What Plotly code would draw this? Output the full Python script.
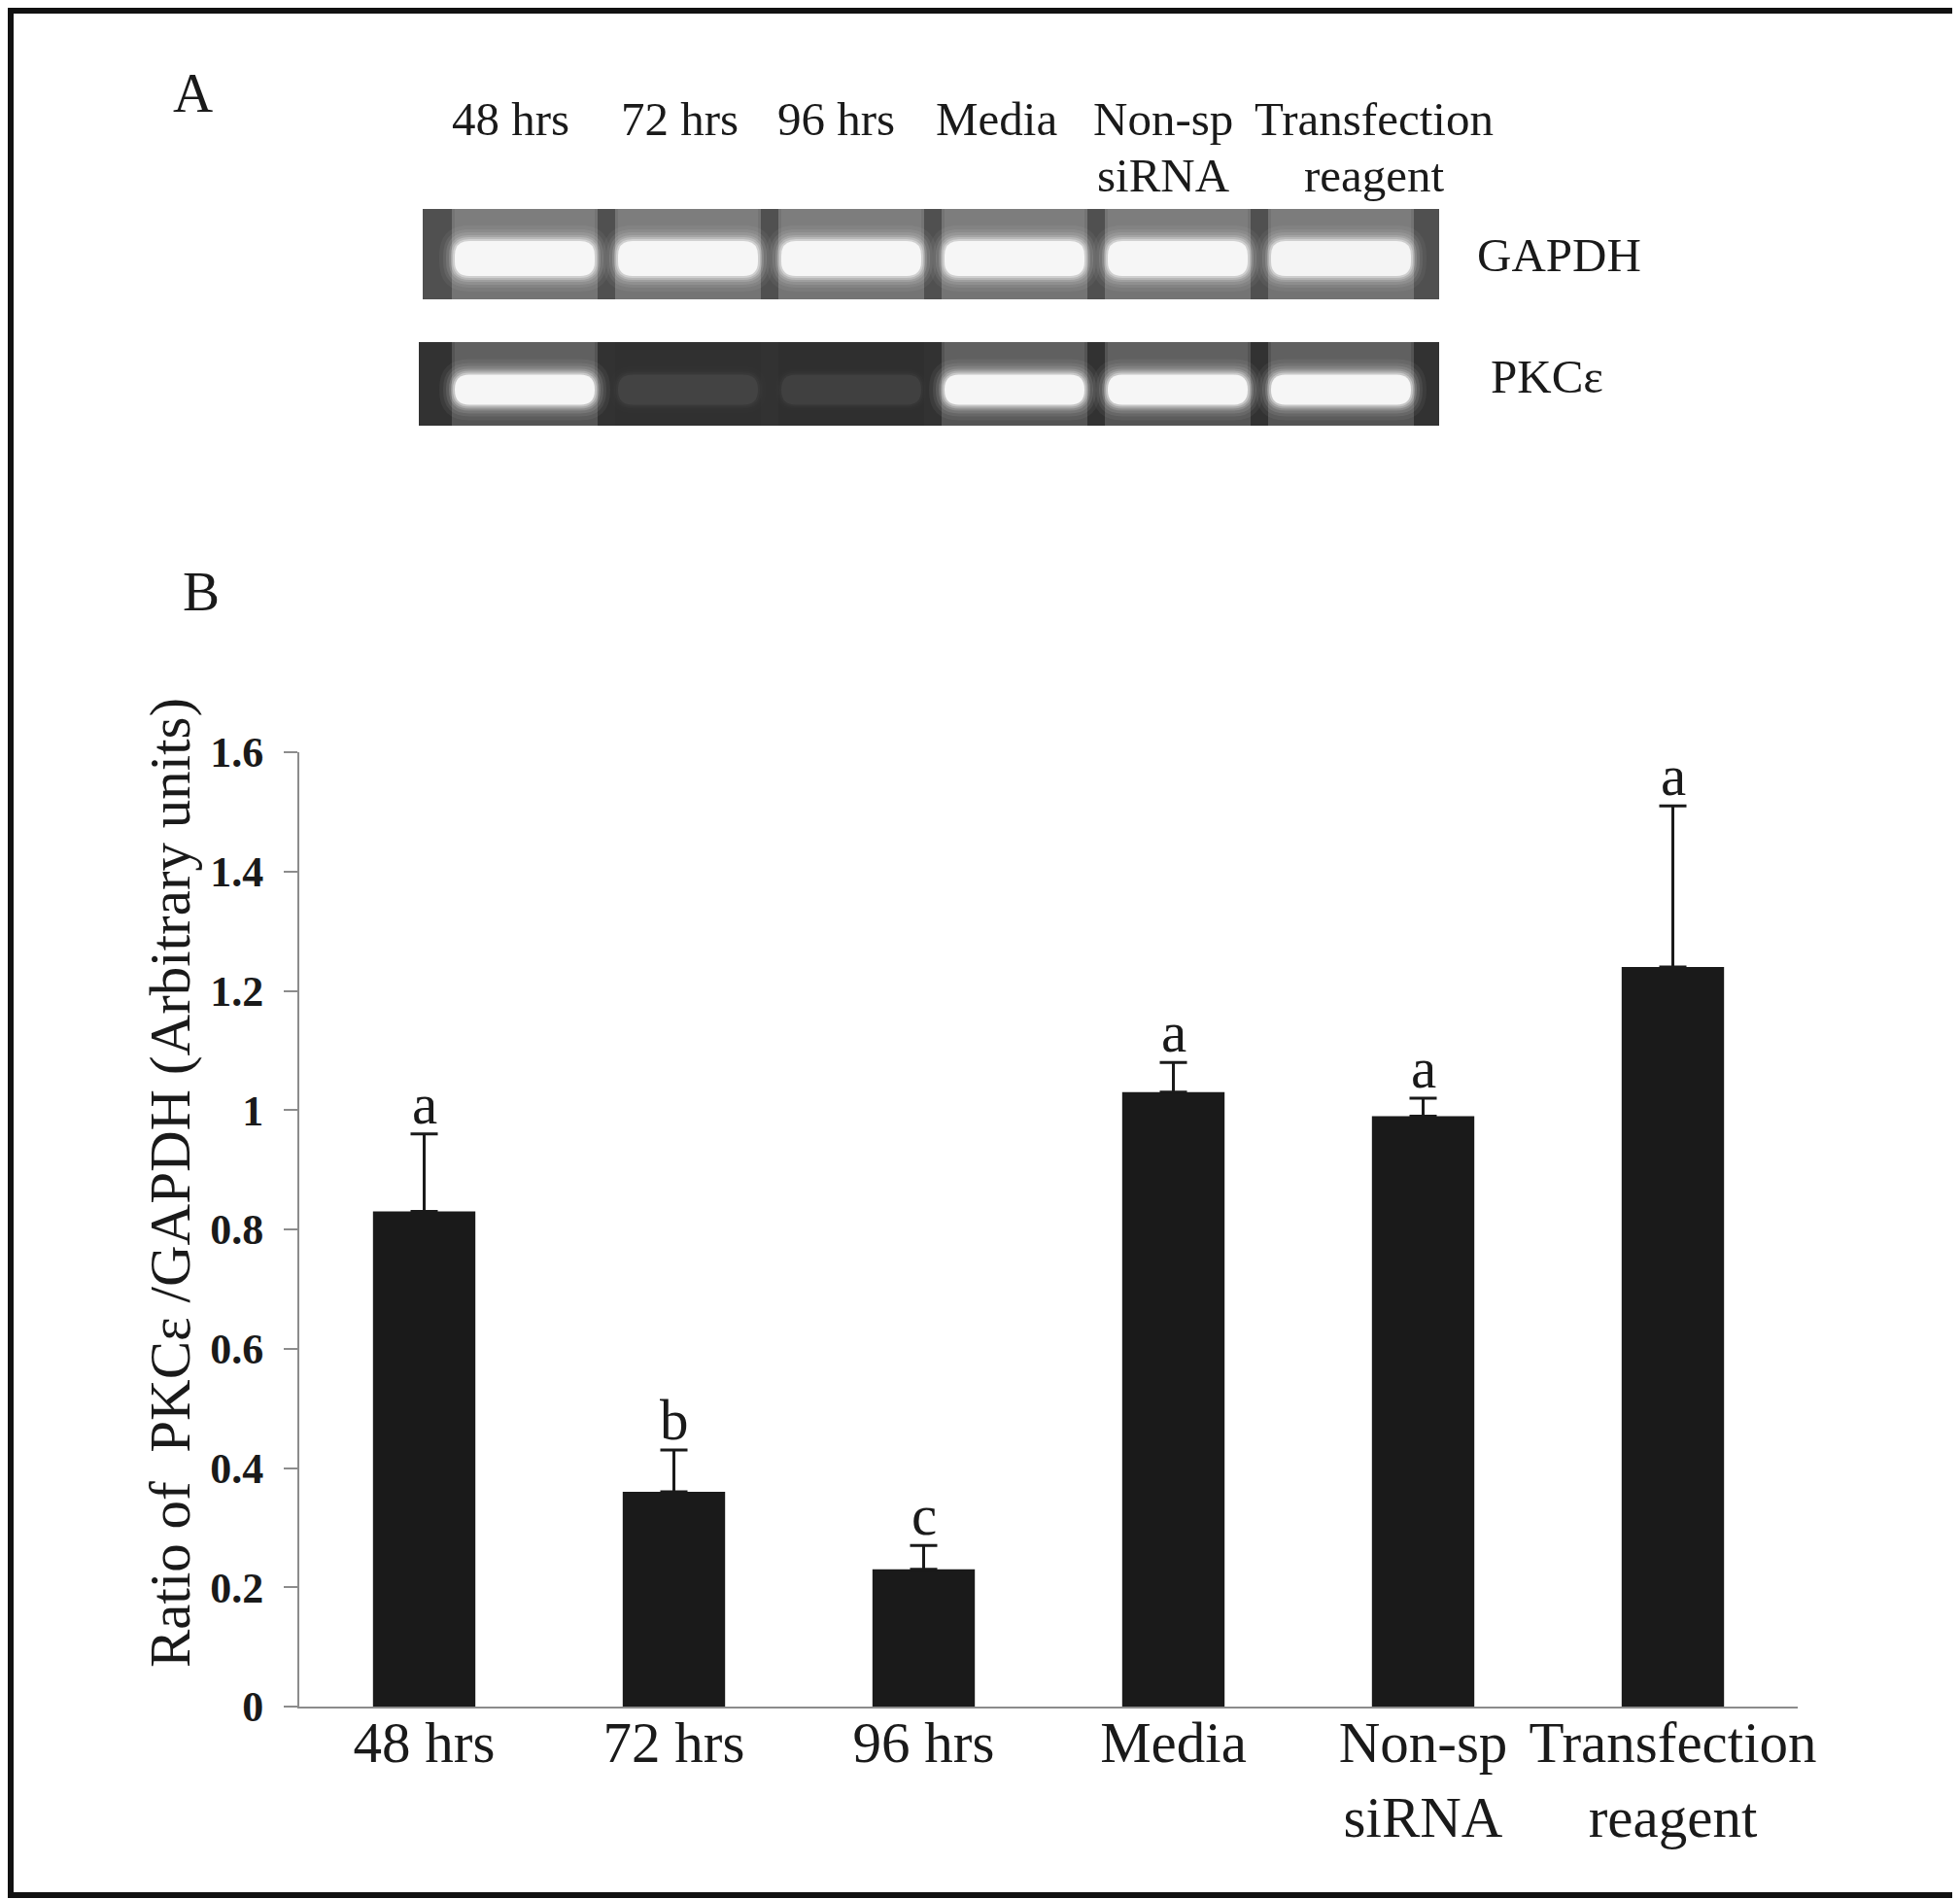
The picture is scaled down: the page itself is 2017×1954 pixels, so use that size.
import plotly.graph_objects as go

# positions below are given in reference-image pixels (2017x1954);
# the page puts the figure 8px in from the top-left corner
OFF = 8
W, H = 2017 - OFF, 1954 - OFF

# panel B: PKCe / GAPDH ratio
groups = ["48 hrs", "72 hrs", "96 hrs", "Media", "Non-sp<br>siRNA", "Transfection<br>reagent"]
ratio = [0.83, 0.36, 0.23, 1.03, 0.99, 1.24]
ratio_err = [0.13, 0.07, 0.04, 0.05, 0.03, 0.27]
sig_letters = ["a", "b", "c", "a", "a", "a"]
y_ticks = [0, 0.2, 0.4, 0.6, 0.8, 1, 1.2, 1.4, 1.6]

# panel A: gel lanes and band brightness (0 = no band, 1 = full band)
gel_lanes = ["48 hrs", "72 hrs", "96 hrs", "Media", "Non-sp<br>siRNA", "Transfection<br>reagent"]
gel_rows = ["GAPDH", "PKCε"]
gapdh_band = [1, 1, 1, 1, 1, 0.95]
pkce_band = [1, 0.06, 0.05, 1, 1, 1]

FONT = "Liberation Serif"
INK = "#1a1a1a"


def P(x, y):
    return (x - OFF) / W, 1 - (y - OFF) / H


def grey(v):
    v = int(max(0, min(255, v)))
    return f"rgb({v},{v},{v})"


def rect(x0, y0, x1, y1, fill, opacity=1.0):
    a, b = P(x0, y0)
    c, d = P(x1, y1)
    return dict(type="rect", xref="paper", yref="paper", x0=a, y0=b, x1=c, y1=d,
                fillcolor=fill, opacity=opacity, line_width=0, layer="above")


def rrect(x0, y0, x1, y1, r, fill, opacity=1.0):
    r = min(r, (y1 - y0) / 2, (x1 - x0) / 2)
    pts = [
        ("M", x0 + r, y0), ("L", x1 - r, y0), ("Q", x1, y0, x1, y0 + r),
        ("L", x1, y1 - r), ("Q", x1, y1, x1 - r, y1), ("L", x0 + r, y1),
        ("Q", x0, y1, x0, y1 - r), ("L", x0, y0 + r), ("Q", x0, y0, x0 + r, y0),
    ]
    path = ""
    for p in pts:
        cmd, coords = p[0], p[1:]
        xy = []
        for i in range(0, len(coords), 2):
            px, py = P(coords[i], coords[i + 1])
            xy.append(f"{px:.5f},{py:.5f}")
        path += cmd + " ".join(xy) + " "
    return dict(type="path", xref="paper", yref="paper", path=path + "Z",
                fillcolor=fill, opacity=opacity, line_width=0, layer="above")


def draw_gel(top, bottom, left, right, bands, bg, lane_dark, lane_light, band_cy, band_h):
    out = [rect(left, top, right, bottom, grey(bg))]
    lane0, lane_w = 456, 168
    for i, b in enumerate(bands):
        lx = lane0 + lane_w * i
        cx = lx + lane_w / 2
        out.append(rect(lx + 9, top, lx + lane_w - 9, bottom,
                        grey(lane_dark + (lane_light - lane_dark) * b)))
        # lighter smear above the band
        out.append(rect(lx + 12, top, lx + lane_w - 12, band_cy - band_h / 2,
                        "white", 0.07 * b))
        hw = 72
        for grow, op in [(16, 0.05), (12, 0.08), (9, 0.11), (6, 0.16),
                         (4, 0.25), (2, 0.4), (0, 1.0)]:
            out.append(rrect(cx - hw - grow, band_cy - band_h / 2 - grow,
                             cx + hw + grow, band_cy + band_h / 2 + grow,
                             15 + grow, "#f6f6f6", op * b))
    return out


shapes = []
shapes += draw_gel(215, 308, 435, 1481, gapdh_band, 80, 100, 116, 266, 36)
shapes += draw_gel(352, 438, 431, 1481, pkce_band, 50, 46, 84, 401, 31)
# outer frame, as close to the page edges as the figure allows
fl, fb = P(11, 1950)
fr, ft = P(2013, 11)
shapes.append(dict(type="rect", xref="paper", yref="paper", x0=fl, y0=fb, x1=fr, y1=ft,
                   line=dict(color="#111111", width=6), fillcolor="rgba(0,0,0,0)"))

annots = []


def label(text, cx, cy, size, angle=0):
    x, y = P(cx, cy)
    annots.append(dict(text=text, x=x, y=y, xref="paper", yref="paper", showarrow=False,
                       xanchor="center", yanchor="middle", textangle=angle,
                       font=dict(family=FONT, size=size, color=INK)))


label("A", 198, 96, 57)
label("B", 207, 608, 57)

lane_label_x = [525, 699, 860, 1025, 1197, 1414]
for name, lx in zip(gel_lanes, lane_label_x):
    for k, line in enumerate(name.split("<br>")):
        label(line, lx, 122 + 58 * k, 49)

label(gel_rows[0], 1604, 263, 49)
label(gel_rows[1], 1592, 388, 49)

# y-axis title
label("Ratio of\u00a0\u00a0PKCε /GAPDH (Arbitrary units)", 175, 1217, 59, -90)

# significance letters over the error bars
for g, v, e, s in zip(groups, ratio, ratio_err, sig_letters):
    annots.append(dict(text=s, x=g, y=v + e, xref="x", yref="y", showarrow=False,
                       yanchor="bottom", yshift=-4,
                       font=dict(family=FONT, size=59, color=INK)))

fig = go.Figure(
    go.Bar(
        x=groups,
        y=ratio,
        width=0.41,
        marker=dict(color=INK, line=dict(width=0)),
        error_y=dict(type="data", array=ratio_err, arrayminus=[0, 0, 0, 0, 0, 0],
                     symmetric=False, color=INK, thickness=3, width=14),
        hoverinfo="skip",
    )
)

x0, y_top = P(308, 774)
x1, y_bot = P(1850, 1756)

fig.update_layout(
    width=W,
    height=H,
    margin=dict(l=0, r=0, t=0, b=0),
    paper_bgcolor="white",
    plot_bgcolor="white",
    showlegend=False,
    font=dict(family=FONT, color=INK),
    shapes=shapes,
    annotations=annots,
    xaxis=dict(
        domain=[x0, x1], automargin=False, tickangle=0,
        showline=True, linecolor="#8c8c8c", linewidth=2,
        ticks="", showgrid=False, zeroline=False,
        ticklabelstandoff=-16,
        tickfont=dict(family=FONT, size=59, color=INK),
    ),
    yaxis=dict(
        domain=[y_bot, y_top], automargin=False,
        range=[0, 1.6],
        tickvals=y_ticks,
        showline=True, linecolor="#8c8c8c", linewidth=2,
        ticks="outside", ticklen=14, tickcolor="#8c8c8c", tickwidth=2,
        ticklabelstandoff=12,
        showgrid=False, zeroline=False,
        tickfont=dict(family=FONT, size=44, color=INK, weight="bold"),
    ),
)

fig.write_html("out.html")
